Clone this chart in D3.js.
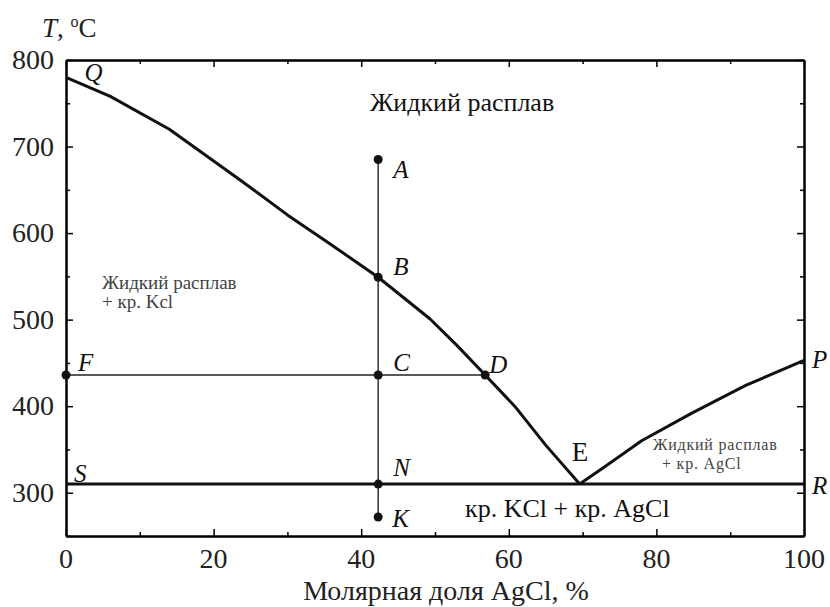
<!DOCTYPE html>
<html>
<head>
<meta charset="utf-8">
<script src="https://cdn.jsdelivr.net/npm/d3@7"></script>
<style>
  body { margin: 0; background: #fff; }
  svg { font-family: "Liberation Serif", "DejaVu Serif", serif; }
</style>
</head>
<body>
<svg id="chart" width="830" height="607"></svg>
<script>
// data
const liquidusKCl = [[0, 780], [6, 758], [14, 720], [23.5, 662], [30, 621], [35.7, 588], [42.3, 549],
    [49.3, 501], [53, 470], [56.8, 436], [60.8, 400], [65, 355], [69.6, 310]];
const liquidusAgCl = [[69.6, 310], [73, 330], [78, 360], [84.8, 392], [92.1, 424], [100, 453]];
const eutecticT = 310;
const tieLineT = 436;
const sectionX = 42.3;
const points = [
    {name: 'A', x: 42.3, t: 685}, {name: 'B', x: 42.3, t: 549}, {name: 'C', x: 42.3, t: 436},
    {name: 'D', x: 56.8, t: 436}, {name: 'F', x: 0, t: 436}, {name: 'N', x: 42.3, t: 310},
    {name: 'K', x: 42.3, t: 272}
];
// label offsets (px) next to each point
const labels = [
    {name: 'Q', x: 2.5, t: 780, dx: 0, dy: -4, italic: true},
    {name: 'A', x: 42.3, t: 685, dx: 15, dy: 10, italic: true},
    {name: 'B', x: 42.3, t: 549, dx: 15, dy: -10, italic: true},
    {name: 'C', x: 42.3, t: 436, dx: 15, dy: -12, italic: true},
    {name: 'D', x: 56.8, t: 436, dx: 4, dy: -10, italic: true},
    {name: 'F', x: 0, t: 436, dx: 12, dy: -12, italic: true},
    {name: 'N', x: 42.3, t: 310, dx: 15, dy: -16, italic: true},
    {name: 'K', x: 42.3, t: 272, dx: 14, dy: 2, italic: true},
    {name: 'S', x: 0, t: 310, dx: 8, dy: -10, italic: true},
    {name: 'E', x: 69.6, t: 310, dx: -8, dy: -31, italic: false},
    {name: 'P', x: 100, t: 453, dx: 8, dy: 0, italic: true},
    {name: 'R', x: 100, t: 310, dx: 8, dy: 2, italic: true}
];
const xTicks = [0, 20, 40, 60, 80, 100];
const yTicks = [300, 400, 500, 600, 700, 800];

const svg = d3.select('#chart');
const MARGIN = {left: 66, right: 26, top: 60, bottom: 71};
const W = 830, H = 607;

const xScale = d3.scaleLinear().domain([0, 100]).range([MARGIN.left, W - MARGIN.right]);
const yScale = d3.scaleLinear().domain([250, 800]).range([H - MARGIN.bottom, MARGIN.top]);

// frame axes with inward ticks
function tickAxis(axis, transform) {
    svg.append('g')
        .attr('transform', transform)
        .call(axis)
        .call(g => g.select('.domain').attr('stroke-width', 2))
        .call(g => g.selectAll('.tick line').attr('stroke-width', 1.5))
        .call(g => g.selectAll('text').remove());
}
const bottom = H - MARGIN.bottom, right = W - MARGIN.right;
const xMinor = d3.range(10, 100, 20), yMinor = d3.range(250, 800, 100);
tickAxis(d3.axisTop(xScale).tickValues(xTicks).tickSize(7).tickSizeOuter(0), `translate(0,${bottom})`);
tickAxis(d3.axisTop(xScale).tickValues(xMinor).tickSize(4).tickSizeOuter(0), `translate(0,${bottom})`);
tickAxis(d3.axisBottom(xScale).tickValues(xTicks).tickSize(7).tickSizeOuter(0), `translate(0,${MARGIN.top})`);
tickAxis(d3.axisBottom(xScale).tickValues(xMinor).tickSize(4).tickSizeOuter(0), `translate(0,${MARGIN.top})`);
tickAxis(d3.axisRight(yScale).tickValues(yTicks).tickSize(7).tickSizeOuter(0), `translate(${MARGIN.left},0)`);
tickAxis(d3.axisRight(yScale).tickValues(yMinor).tickSize(4).tickSizeOuter(0), `translate(${MARGIN.left},0)`);
tickAxis(d3.axisLeft(yScale).tickValues(yTicks).tickSize(7).tickSizeOuter(0), `translate(${right},0)`);
tickAxis(d3.axisLeft(yScale).tickValues(yMinor).tickSize(4).tickSizeOuter(0), `translate(${right},0)`);

// tick labels
svg.append('g').selectAll('text').data(xTicks).enter().append('text')
    .attr('x', d => xScale(d)).attr('y', bottom + 32)
    .attr('text-anchor', 'middle').style('font-size', '28px').attr('fill', '#222')
    .text(d => d);
svg.append('g').selectAll('text').data(yTicks).enter().append('text')
    .attr('x', MARGIN.left - 12).attr('y', d => yScale(d) + 9)
    .attr('text-anchor', 'end').style('font-size', '28px').attr('fill', '#222')
    .text(d => d);

// axis titles
svg.append('text')
    .attr('x', 446).attr('y', 600)
    .attr('text-anchor', 'middle').style('font-size', '28px').attr('fill', '#222')
    .text('Молярная доля AgCl, %');
const tTitle = svg.append('text').attr('x', 42).attr('y', 37).style('font-size', '27px').attr('fill', '#222');
tTitle.append('tspan').style('font-style', 'italic').text('T');
tTitle.append('tspan').text(', ');
tTitle.append('tspan').attr('dy', -10).style('font-size', '16px').text('o');
tTitle.append('tspan').attr('dy', 10).text('C');

const line = d3.line().x(d => xScale(d[0])).y(d => yScale(d[1]));

// vertical section A-K
svg.append('line')
    .attr('x1', xScale(sectionX)).attr('x2', xScale(sectionX))
    .attr('y1', yScale(685)).attr('y2', yScale(272))
    .attr('stroke', '#333').attr('stroke-width', 1.5);

// tie line F-D
svg.append('line')
    .attr('x1', xScale(0)).attr('x2', xScale(56.8))
    .attr('y1', yScale(tieLineT)).attr('y2', yScale(tieLineT))
    .attr('stroke', '#222').attr('stroke-width', 1.5);

// eutectic line S-R
svg.append('line')
    .attr('x1', xScale(0)).attr('x2', xScale(100))
    .attr('y1', yScale(eutecticT)).attr('y2', yScale(eutecticT))
    .attr('stroke', '#111').attr('stroke-width', 3);

// liquidus curves
[liquidusKCl, liquidusAgCl].forEach(data => {
    svg.append('path').datum(data)
        .attr('d', line)
        .attr('fill', 'none').attr('stroke', '#111').attr('stroke-width', 3)
        .attr('stroke-linejoin', 'round');
});

// points
svg.append('g').selectAll('circle').data(points).enter().append('circle')
    .attr('cx', d => xScale(d.x)).attr('cy', d => yScale(d.t))
    .attr('r', 4.5).attr('fill', '#111');

// point labels
svg.append('g').selectAll('text').data(labels).enter().append('text')
    .attr('x', d => xScale(d.x) + d.dx).attr('y', d => yScale(d.t) + d.dy + 8)
    .style('font-size', d => d.italic ? '25px' : '27px').style('font-style', d => d.italic ? 'italic' : 'normal')
    .attr('fill', '#111')
    .text(d => d.name);

// region labels
function region(x, y, lines, size, gap, color, spacing) {
    const t = svg.append('text').attr('x', x).attr('y', y)
        .style('font-size', size + 'px').style('letter-spacing', (spacing || 0) + 'px').attr('fill', color);
    lines.forEach((s, i) => {
        t.append('tspan').attr('x', x + (i ? s.indent : 0)).attr('dy', i ? gap : 0).text(s.text);
    });
}
region(370, 111, [{text: 'Жидкий расплав'}], 26, 0, '#111');
region(102, 289, [{text: 'Жидкий расплав'}, {text: '+ кр. Kcl', indent: 0}], 19, 19, '#444');
region(653, 450, [{text: 'Жидкий расплав'}, {text: '+ кр. AgCl', indent: 9}], 16, 19, '#444', 0.8);
region(465, 517, [{text: 'кр. KCl + кр. AgCl'}], 26, 0, '#111');
</script>
</body>
</html>
